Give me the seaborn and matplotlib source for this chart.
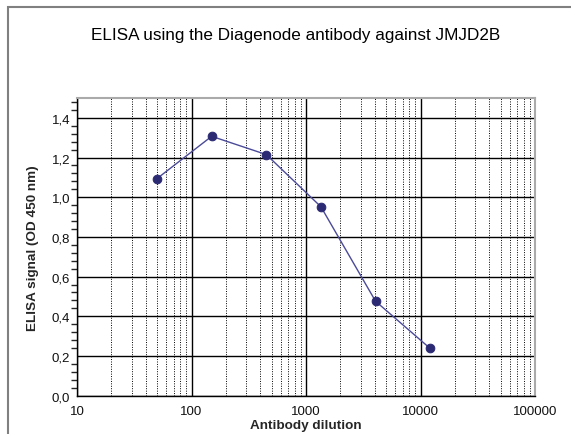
import matplotlib
matplotlib.use("Agg")
import matplotlib.pyplot as plt
import matplotlib.ticker as mticker
from matplotlib.patches import Rectangle
import seaborn as sns
import pandas as pd

# data
dilution = [50, 150, 450, 1350, 4050, 12150]
od450 = [1.094, 1.307, 1.215, 0.952, 0.476, 0.238]

df = pd.DataFrame({"dilution": dilution, "od": od450})

sns.set_style("white")
plt.rcParams["font.family"] = ["Liberation Sans", "DejaVu Sans"]

fig = plt.figure(figsize=(5.71, 4.35), dpi=100)
ax = fig.add_axes([77 / 571, 1 - 396.7 / 435, (535 - 77) / 571, (396.7 - 99) / 435])

sns.lineplot(data=df, x="dilution", y="od", ax=ax, color="#4B4A99", linewidth=1,
             marker="o", markersize=6.2, markerfacecolor="#2B2A73",
             markeredgecolor="#2B2A73", zorder=5)

ax.set_xscale("log")
ax.set_xlim(10, 100000)
ax.set_ylim(0, 1.5)

ax.xaxis.set_major_locator(mticker.LogLocator(base=10, numticks=10))
ax.xaxis.set_minor_locator(mticker.LogLocator(base=10, subs=range(2, 10), numticks=50))
ax.xaxis.set_major_formatter(mticker.FuncFormatter(lambda v, p: f"{int(round(v))}"))
ax.xaxis.set_minor_formatter(mticker.NullFormatter())
ax.yaxis.set_major_locator(mticker.FixedLocator([0, 0.2, 0.4, 0.6, 0.8, 1.0, 1.2, 1.4]))
ax.yaxis.set_minor_locator(mticker.MultipleLocator(0.04))
ax.yaxis.set_major_formatter(mticker.FuncFormatter(lambda v, p: f"{v:.1f}".replace(".", ",")))

ax.grid(which="major", axis="both", color="black", linewidth=1, linestyle="-")
ax.grid(which="minor", axis="x", color="black", linewidth=0.7, linestyle=(0, (1, 1.5)))
ax.set_axisbelow(True)

ax.tick_params(axis="both", which="major", labelsize=9.5, length=5, width=1, color="black",
               labelcolor="#111111")
ax.tick_params(axis="x", which="both", direction="inout", length=6, width=1, pad=4)
ax.tick_params(axis="y", which="minor", direction="out", length=4, width=1, left=True)
ax.tick_params(axis="y", which="major", direction="inout", length=6, pad=2)

for s in ["left", "bottom"]:
    ax.spines[s].set_color("black")
    ax.spines[s].set_linewidth(1)
for s in ["top", "right"]:
    ax.spines[s].set_color("#aaaaaa")
    ax.spines[s].set_linewidth(1.5)

ax.set_xlabel("Antibody dilution", fontsize=9.7, fontweight="bold", labelpad=1)
ax.set_ylabel("ELISA signal (OD 450 nm)", fontsize=9.7, fontweight="bold", labelpad=9)

fig.text(0.5175, 1 - 36 / 435, "ELISA using the Diagenode antibody against JMJD2B",
         ha="center", va="center", fontsize=12.3, color="black")

# outer chart frame
fig.patches.append(Rectangle((8 / 571, -0.1), 1.2, 1 - 8 / 435 + 0.1,
                             transform=fig.transFigure, fill=False,
                             edgecolor="#808080", linewidth=1.5))

fig.savefig("out.png", dpi=100)
